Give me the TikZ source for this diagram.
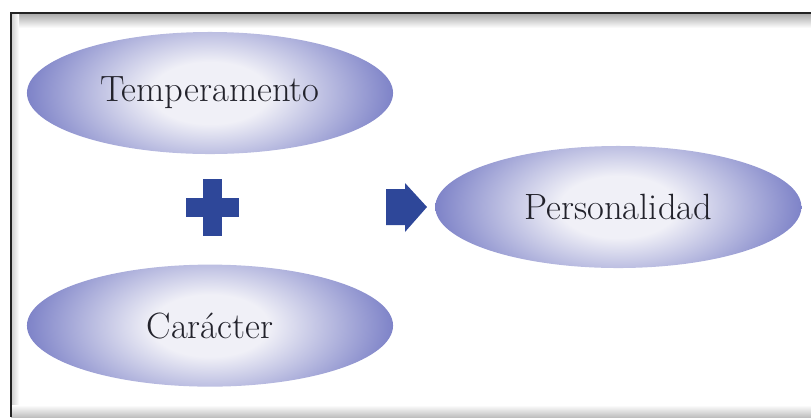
\documentclass[tikz,border=0pt]{standalone}
\usepackage{tikz}
\usetikzlibrary{
  positioning,
  shapes.geometric,
}
\definecolor{ovalEdge}{HTML}{7E83C8}
\definecolor{ovalCore}{HTML}{F0F0F7}
\definecolor{signBlue}{HTML}{2E4799}
\definecolor{inkGray}{HTML}{22222B}
\definecolor{frameInk}{HTML}{222222}
\pgfdeclareradialshading{ovalglow}{\pgfpoint{0bp}{0bp}}{%
  color(0bp)=(ovalCore); color(8bp)=(ovalCore);
  color(25bp)=(ovalEdge); color(50bp)=(ovalEdge)}
\tikzset{
  oval/.style={
    ellipse, draw=none,
    minimum width=9.15cm, minimum height=3.05cm, inner sep=0pt,
    text=inkGray, font=\fontsize{26}{30}\selectfont,
    path picture={
      \shade[shading=ovalglow]
        ([yshift=-0.9cm]path picture bounding box.south west) rectangle
        ([yshift=0.9cm]path picture bounding box.north east);
    },
  },
  signfill/.style={fill=signBlue, draw=none},
  frameLine/.style={draw=frameInk, line width=2pt},
}

\begin{document}
\begin{tikzpicture}[x=0.025cm, y=-0.025cm]
\useasboundingbox (0,0) rectangle (811,417);

% frame with soft inner shadow
\shade[top color=black!35, bottom color=white] (11,13) rectangle (811,28);
\shade[left color=black!20, right color=white] (11,13) rectangle (19,417);
\shade[top color=white, bottom color=black!25] (11,405) rectangle (811,417);
\draw[frameLine] (811,13) -- (11,13) -- (11,417);

% the three ovals
\node[oval] (temp) at (210,93) {Temperamento};
\node[oval, below=2.75cm of temp] (car) {Car\'acter};

% plus sign
\fill[signfill] (186,198) rectangle (239,217);
\fill[signfill] (203,179) rectangle (222,236);

% arrow sign
\coordinate (tip) at (427,207);
\fill[signfill] (386,189) -- (405,189) -- (405,183) -- (tip)
  -- (405,232) -- (405,225) -- (386,225) -- cycle;

\node[oval, right=0.2cm of tip] (pers) {Personalidad};

\end{tikzpicture}
\end{document}
